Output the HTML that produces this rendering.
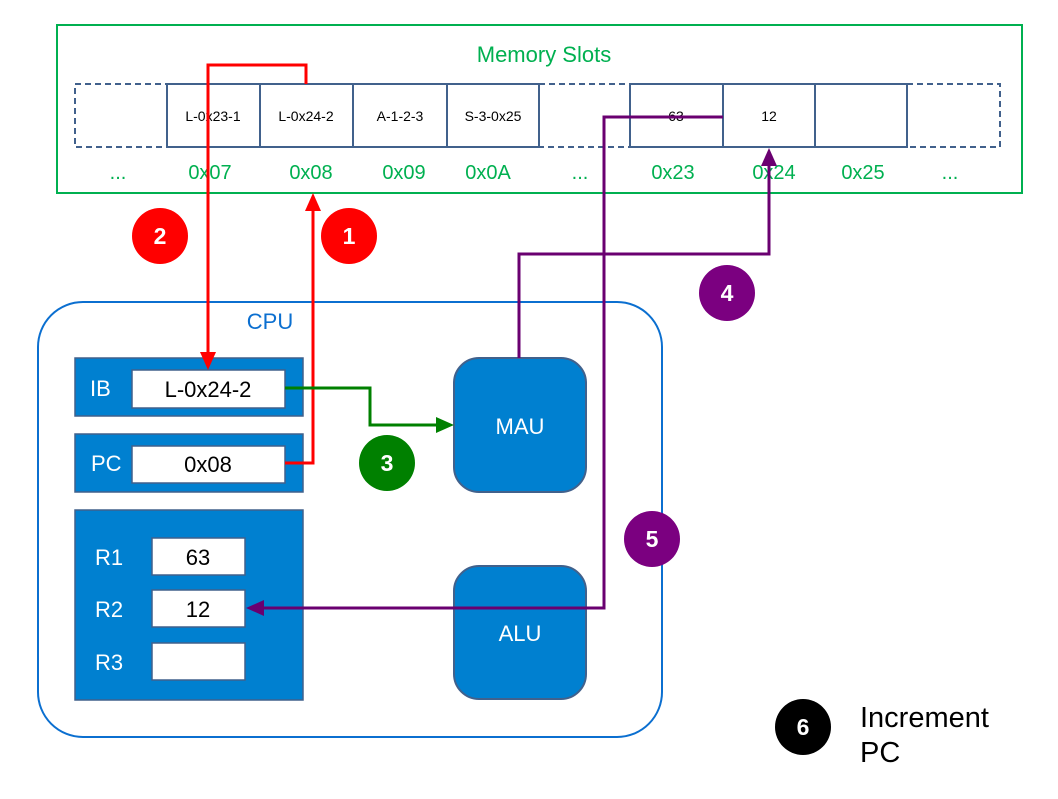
<!DOCTYPE html>
<html><head><style>
body{margin:0;background:#fff;}
svg text{font-family:"Liberation Sans",sans-serif;}
</style></head><body>
<svg width="1058" height="794" viewBox="0 0 1058 794" xmlns="http://www.w3.org/2000/svg">
<rect x="57" y="25" width="965" height="168" fill="#fff" stroke="#00b050" stroke-width="2"/>
<text x="544" y="62" font-size="22" fill="#00b050" text-anchor="middle">Memory Slots</text>
<g stroke="#41618c" stroke-width="2" fill="none">
<rect x="75" y="84" width="92" height="63" stroke-dasharray="6,4"/>
<rect x="539" y="84" width="91" height="63" stroke-dasharray="6,4"/>
<rect x="907" y="84" width="93" height="63" stroke-dasharray="6,4"/>
<rect x="167" y="84" width="93" height="63"/>
<rect x="260" y="84" width="93" height="63"/>
<rect x="353" y="84" width="94" height="63"/>
<rect x="447" y="84" width="92" height="63"/>
<rect x="630" y="84" width="93" height="63"/>
<rect x="723" y="84" width="92" height="63"/>
<rect x="815" y="84" width="92" height="63"/>
</g>
<g font-size="14" fill="#000" text-anchor="middle">
<text x="213" y="121">L-0x23-1</text>
<text x="306" y="121">L-0x24-2</text>
<text x="400" y="121">A-1-2-3</text>
<text x="493" y="121">S-3-0x25</text>
<text x="676" y="121">63</text>
<text x="769" y="121">12</text>
</g>
<g font-size="20" fill="#00b050" text-anchor="middle">
<text x="118" y="179">...</text>
<text x="210" y="179">0x07</text>
<text x="311" y="179">0x08</text>
<text x="404" y="179">0x09</text>
<text x="488" y="179">0x0A</text>
<text x="580" y="179">...</text>
<text x="673" y="179">0x23</text>
<text x="774" y="179">0x24</text>
<text x="863" y="179">0x25</text>
<text x="950" y="179">...</text>
</g>
<rect x="38" y="302" width="624" height="435" rx="45" fill="#fff" stroke="#0b6fd0" stroke-width="2"/>
<text x="270" y="329" font-size="22" fill="#0b6fd0" text-anchor="middle">CPU</text>
<g stroke="#41618c" stroke-width="1.5">
<rect x="75" y="358" width="228" height="58" fill="#0080d0"/>
<rect x="75" y="434" width="228" height="58" fill="#0080d0"/>
<rect x="75" y="510" width="228" height="190" fill="#0080d0"/>
<rect x="132" y="370" width="153" height="38" fill="#fff"/>
<rect x="132" y="446" width="153" height="37" fill="#fff"/>
<rect x="152" y="538" width="93" height="37" fill="#fff"/>
<rect x="152" y="590" width="93" height="37" fill="#fff"/>
<rect x="152" y="643" width="93" height="37" fill="#fff"/>
<rect x="454" y="358" width="132" height="134" rx="25" fill="#0080d0" stroke-width="2"/>
<rect x="454" y="566" width="132" height="133" rx="25" fill="#0080d0" stroke-width="2"/>
</g>
<g font-size="22" fill="#fff">
<text x="90" y="396">IB</text>
<text x="91" y="471">PC</text>
<text x="95" y="565">R1</text>
<text x="95" y="617">R2</text>
<text x="95" y="670">R3</text>
<text x="520" y="434" text-anchor="middle">MAU</text>
<text x="520" y="641" text-anchor="middle">ALU</text>
</g>
<g font-size="22" fill="#000" text-anchor="middle">
<text x="208" y="397">L-0x24-2</text>
<text x="208" y="472">0x08</text>
<text x="198" y="565">63</text>
<text x="198" y="617">12</text>
</g>
<polyline points="306,84 306,65 208,65 208,356" fill="none" stroke="#ff0000" stroke-width="3"/>
<path d="M200,352 L216,352 L208,370 z" fill="#ff0000"/>
<polyline points="285,463 313,463 313,207" fill="none" stroke="#ff0000" stroke-width="3"/>
<path d="M305,211 L321,211 L313,193 z" fill="#ff0000"/>
<polyline points="285,388 370,388 370,425 440,425" fill="none" stroke="#008000" stroke-width="3"/>
<path d="M436,417 L454,425 L436,433 z" fill="#008000"/>
<polyline points="519,358 519,254 769,254 769,162" fill="none" stroke="#6a0070" stroke-width="3"/>
<path d="M761,166 L777,166 L769,148 z" fill="#6a0070"/>
<polyline points="723,117 604,117 604,608 260,608" fill="none" stroke="#6a0070" stroke-width="3"/>
<path d="M264,600 L264,616 L246,608 z" fill="#6a0070"/>
<g font-size="23" font-weight="bold" fill="#fff" text-anchor="middle">
<circle cx="160" cy="236" r="28" fill="#ff0000"/><text x="160" y="244">2</text>
<circle cx="349" cy="236" r="28" fill="#ff0000"/><text x="349" y="244">1</text>
<circle cx="387" cy="463" r="28" fill="#008000"/><text x="387" y="471">3</text>
<circle cx="727" cy="293" r="28" fill="#7b0080"/><text x="727" y="301">4</text>
<circle cx="652" cy="539" r="28" fill="#7b0080"/><text x="652" y="547">5</text>
<circle cx="803" cy="727" r="28" fill="#000"/><text x="803" y="735">6</text>
</g>
<text x="860" y="727" font-size="29" fill="#000">Increment</text>
<text x="860" y="762" font-size="29" fill="#000">PC</text>
</svg>
</body></html>
